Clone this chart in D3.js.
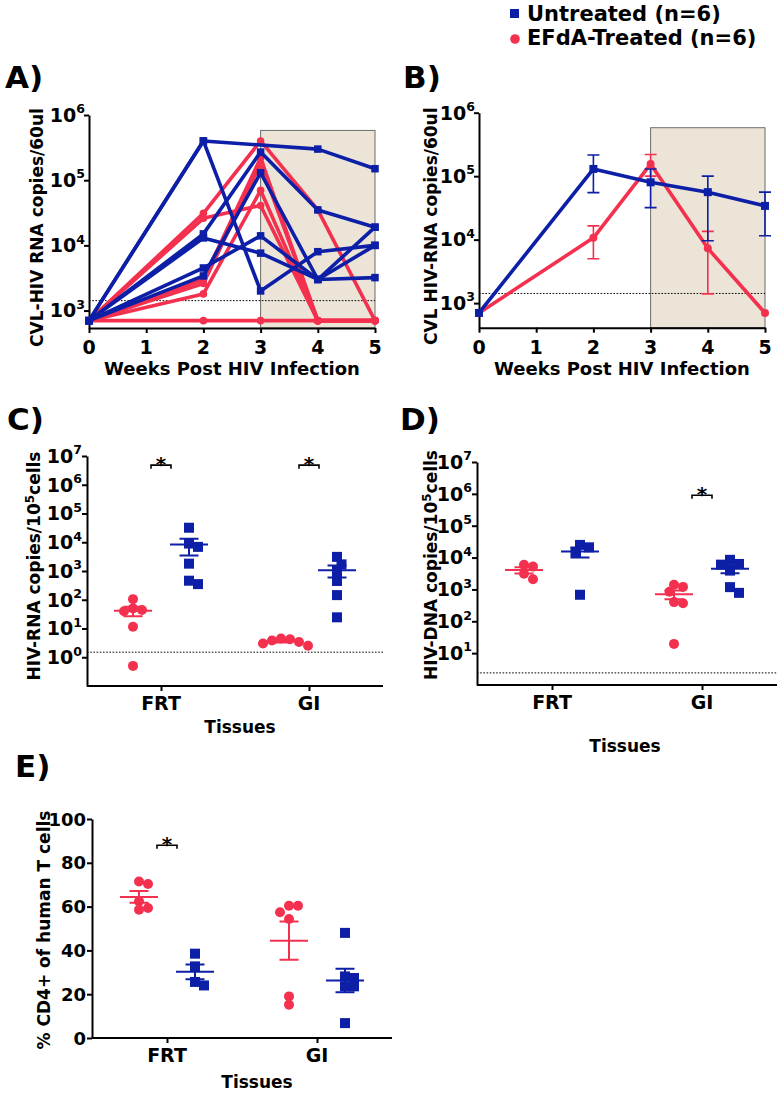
<!DOCTYPE html>
<html>
<head>
<meta charset="utf-8">
<script src="https://cdn.jsdelivr.net/npm/d3@7/dist/d3.min.js"></script>
<style>
  body { margin: 0; background: #fff; }
  svg { font-family: "DejaVu Sans", "Liberation Sans", Arial, sans-serif; font-weight: bold; }
</style>
</head>
<body>
<svg id="fig" width="782" height="1094"></svg>
<script>
// values

var weekTicks = [0, 1, 2, 3, 4, 5];
var weeks = [0, 2, 3, 4, 5];

// A) each animal, CVL copies/60ul (null = no sample that week)
var untreatedRuns = [
  [700, 4.0e5, null, 3.0e5, 1.5e5],
  [700, 4.0e5, 2000, 8000, 1.0e4],
  [700, 1.5e4, 2.7e5, 3.5e4, 1.9e4],
  [700, 1.3e4, 7600, 3000, 1.9e4],
  [700, 4500, 1.4e4, 3000, 1.0e4],
  [700, 3400, 1.3e5, 3000, 3200]
];
var treatedRuns = [
  [700, 3.1e4, 4.0e5, 3.5e4, 700],
  [700, 2.6e4, 4.1e4, 700, 700],
  [700, 3000, 2.2e5, 700, 700],
  [700, 2600, 1.8e5, 700, 700],
  [700, 1800, 7.0e4, 700, 700],
  [700, 700, 700, 700, 700]
];

// B) mean with SEM ends
var untreatedMean = [700, 1.3e5, 8.0e4, 5.6e4, 3.4e4];
var untreatedHigh = [null, 2.15e5, 1.3e5, 1.0e5, 5.6e4];
var untreatedLow = [null, 5.5e4, 3.2e4, 9600, 1.15e4];
var treatedMean = [700, 1.07e4, 1.55e5, 7300, 700];
var treatedHigh = [null, 1.65e4, 2.2e5, 1.35e4, null];
var treatedLow = [null, 5000, 1.0e5, 1400, null];

var detectionCVL = 1420;
var treatmentWeeks = [3, 5];
var shadeTop = 5.8e5;

var tissues = ["FRT", "GI"];
var groups = ["EFdA-Treated", "Untreated"];

// C) HIV-RNA copies / 10^5 cells
var rnaTreatedFRT = [105, 50, 44, 40, 11.5, 0.5];
var rnaUntreatedFRT = [3.2e4, 9000, 6900, 1800, 460, 350];
var rnaTreatedGI = [4.5, 4.2, 3.8, 3.4, 3.0, 2.5];
var rnaUntreatedGI = [3100, 1700, 1000, 450, 145, 24.5];
var detectionRNA = 1.5;
var starsC = ["FRT", "GI"];
var starLevelC = 4.8e6;

// D) HIV-DNA copies / 10^5 cells
var dnaTreatedFRT = [5900, 5200, 3100, 2100];
var dnaUntreatedFRT = [2.5e4, 2.1e4, 1.5e4, 680];
var dnaTreatedGI = [1400, 1200, 850, 400, 370, 19.5];
var dnaUntreatedGI = [8500, 6300, 6000, 3900, 1180, 780];
var detectionDNA = 2.4;
var starsD = ["GI"];
var starLevelD = 9e5;

// E) % CD4+ of human T cells
var cd4TreatedFRT = [71.5, 70.3, 62.4, 59.4, 58.6];
var cd4UntreatedFRT = [38.5, 32.7, 25.6, 24];
var cd4TreatedGI = [60.4, 60.4, 57.4, 54.3, 19, 15.2];
var cd4UntreatedGI = [48, 28.1, 27.4, 23.6, 23.6, 6.8];
var cd4Ticks = [0, 20, 40, 60, 80, 100];
var starsE = ["FRT"];
var starLevelE = 88;

var BLUE = "#0c1fa6", RED = "#f4304f", SHADE = "#ece4d7";
var svg = d3.select("#fig");

var say = function (parent, x, y, str, size, anchor, rot) {
  var tf = "translate(" + x + "," + y + ")" + (rot ? " rotate(" + rot + ")" : "");
  return parent.append("text")
    .attr("transform", tf)
    .attr("text-anchor", anchor || "middle")
    .attr("font-size", size)
    .text(str);
};

// "10" with a raised exponent, right aligned on x
var power = function (parent, x, y, exp, size) {
  var t = parent.append("text")
    .attr("x", x).attr("y", y + size * 0.36)
    .attr("text-anchor", "end")
    .attr("font-size", size);
  t.append("tspan").text("10");
  t.append("tspan").attr("dy", -size * 0.45).attr("font-size", size * 0.66).text(exp);
  return t;
};

var styleAxis = function (g) {
  g.select(".domain").attr("stroke", "#000").attr("stroke-width", 2);
  g.selectAll(".tick line").attr("stroke", "#000").attr("stroke-width", 2);
  g.selectAll(".tick text").remove();
};

var square = function (g, cx, cy, s, color) {
  g.append("rect")
    .attr("x", cx - s / 2).attr("y", cy - s / 2)
    .attr("width", s).attr("height", s)
    .attr("fill", color);
};

var dot = function (g, cx, cy, r, color) {
  g.append("circle").attr("cx", cx).attr("cy", cy).attr("r", r).attr("fill", color);
};

var dotted = function (g, x1, x2, y) {
  g.append("line")
    .attr("x1", x1).attr("x2", x2).attr("y1", y).attr("y2", y)
    .attr("stroke", "#000").attr("stroke-width", 1)
    .attr("stroke-dasharray", "1.6,1.6");
};

// legend
var legend = svg.append("g");
square(legend, 514.5, 13.5, 9, BLUE);
say(legend, 527, 21, "Untreated (n=6)", 21, "start");
dot(legend, 515, 39, 4.8, RED);
say(legend, 527, 45, "EFdA-Treated (n=6)", 21, "start");

// ---------- A and B: viral load over time ----------
var courseFrame = function (opt) {
  var g = svg.append("g");
  var x = d3.scaleLinear().domain([0, 5]).range([opt.left, opt.right]);
  var y = d3.scaleLog().domain([opt.yMin, 1e6]).range([opt.bottom, opt.top]);

  say(g, opt.letterX, 88, opt.letter, 31, "start");

  g.append("rect")
    .attr("x", x(treatmentWeeks[0]))
    .attr("y", y(shadeTop))
    .attr("width", x(treatmentWeeks[1]) - x(treatmentWeeks[0]))
    .attr("height", y(opt.yMin) - y(shadeTop))
    .attr("fill", SHADE).attr("stroke", "#6b6b6b").attr("stroke-width", 1);

  dotted(g, x(0), x(5), y(detectionCVL));

  g.append("g").attr("transform", "translate(0," + opt.bottom + ")")
    .call(d3.axisBottom(x).tickValues(weekTicks).tickSize(5).tickSizeOuter(0))
    .call(styleAxis);
  g.append("g").attr("transform", "translate(" + opt.left + ",0)")
    .call(d3.axisLeft(y).tickValues([1e3, 1e4, 1e5, 1e6]).tickSize(5).tickSizeOuter(0))
    .call(styleAxis);

  weekTicks.forEach(function (w) {
    say(g, x(w), opt.bottom + 26, String(w), 19);
  });
  [3, 4, 5, 6].forEach(function (e) {
    power(g, opt.left - 4, y(Math.pow(10, e)), e, 19);
  });

  say(g, opt.titleX, (opt.top + opt.bottom) / 2 + 6, opt.title, 17, "middle", -90);
  say(g, (opt.left + opt.right) / 2, opt.bottom + 47, "Weeks Post HIV Infection", 18);

  return { g: g, x: x, y: y };
};

var A = courseFrame({ left: 89, right: 375, top: 115, bottom: 328, yMin: 540,
  letter: "A)", letterX: 5, title: "CVL-HIV RNA copies/60ul", titleX: 43 });

var runLine = function (frame, run) {
  var pts = weeks.map(function (w, i) { return [w, run[i]]; })
    .filter(function (p) { return p[1] != null; });
  var line = d3.line()
    .x(function (p) { return frame.x(p[0]); })
    .y(function (p) { return frame.y(p[1]); });
  return { pts: pts, path: line(pts) };
};

treatedRuns.forEach(function (run) {
  var r = runLine(A, run);
  A.g.append("path").attr("d", r.path).attr("fill", "none")
    .attr("stroke", RED).attr("stroke-width", 3.6).attr("stroke-linejoin", "round");
  r.pts.forEach(function (p) { dot(A.g, A.x(p[0]), A.y(p[1]), 3.8, RED); });
});
untreatedRuns.forEach(function (run) {
  var r = runLine(A, run);
  A.g.append("path").attr("d", r.path).attr("fill", "none")
    .attr("stroke", BLUE).attr("stroke-width", 3.6).attr("stroke-linejoin", "round");
  r.pts.forEach(function (p) { square(A.g, A.x(p[0]), A.y(p[1]), 7.5, BLUE); });
});

var B = courseFrame({ left: 479, right: 765, top: 112.7, bottom: 327.7, yMin: 410,
  letter: "B)", letterX: 403, title: "CVL HIV-RNA copies/60ul", titleX: 437 });

var meanSeries = function (frame, mean, hi, lo, color, marker) {
  var pts = weeks.map(function (w, i) { return [w, mean[i]]; });
  var line = d3.line()
    .x(function (p) { return frame.x(p[0]); })
    .y(function (p) { return frame.y(p[1]); });
  frame.g.append("path").attr("d", line(pts)).attr("fill", "none")
    .attr("stroke", color).attr("stroke-width", 3.6).attr("stroke-linejoin", "round");
  weeks.forEach(function (w, i) {
    if (hi[i] == null) return;
    var cx = frame.x(w), y1 = frame.y(hi[i]), y2 = frame.y(lo[i]);
    frame.g.append("path")
      .attr("d", "M" + (cx - 6) + "," + y1 + "H" + (cx + 6) + "M" + cx + "," + y1 + "V" + y2 + "M" + (cx - 6) + "," + y2 + "H" + (cx + 6))
      .attr("fill", "none").attr("stroke", color).attr("stroke-width", 1.6);
  });
  pts.forEach(function (p) { marker(frame.g, frame.x(p[0]), frame.y(p[1]), color); });
};

meanSeries(B, treatedMean, treatedHigh, treatedLow, RED, function (g, x, y, c) { dot(g, x, y, 4, c); });
meanSeries(B, untreatedMean, untreatedHigh, untreatedLow, BLUE, function (g, x, y, c) { square(g, x, y, 8, c); });

// ---------- C, D, E: tissue scatter plots ----------
// spread points sideways only where they would sit on top of each other
var swarm = function (vals, y, cx, r) {
  var placed = [];
  return vals.slice().sort(function (a, b) { return b - a; }).map(function (v) {
    var py = y(v), k = 0, px;
    while (true) {
      px = cx + (k % 2 ? 1 : -1) * Math.ceil(k / 2) * r * 0.9;
      var clash = placed.some(function (p) {
        return Math.hypot(p[0] - px, p[1] - py) < r * 1.6;
      });
      if (!clash) break;
      k++;
    }
    placed.push([px, py]);
    return [px, py];
  });
};

var scatterFrame = function (opt) {
  var g = svg.append("g");
  var x = d3.scalePoint().domain(tissues).range([opt.left, opt.right]).padding(0.5);
  var sub = d3.scalePoint().domain(groups).range([-28, 28]);
  var y = opt.y;
  var bottom = y.range()[0], top = y.range()[1];

  say(g, opt.letterX, opt.letterY, opt.letter, 31, "start");

  if (opt.detection) dotted(g, opt.left, opt.right, y(opt.detection));

  g.append("g").attr("transform", "translate(0," + bottom + ")")
    .call(d3.axisBottom(x).tickSize(5).tickSizeOuter(0))
    .call(styleAxis);
  g.select("g .domain").attr("d", "M" + opt.left + ",0H" + opt.right);
  g.append("g").attr("transform", "translate(" + opt.left + ",0)")
    .call(d3.axisLeft(y).tickValues(opt.ticks).tickSize(5).tickSizeOuter(0))
    .call(styleAxis);

  opt.ticks.forEach(function (t) {
    if (opt.log) power(g, opt.left - 5, y(t), Math.round(Math.log10(t)), 19);
    else say(g, opt.left - 6, y(t) + 6.5, String(t), 18, "end");
  });
  tissues.forEach(function (t) { say(g, x(t), bottom + 24, t, 19); });

  var title = g.append("text")
    .attr("transform", "translate(" + opt.titleX + "," + opt.titleY + ") rotate(-90)")
    .attr("text-anchor", "middle").attr("font-size", 17);
  title.append("tspan").text(opt.title[0]);
  if (opt.title.length > 1) {
    title.append("tspan").attr("dy", -6).attr("font-size", 12).text(opt.title[1]);
    title.append("tspan").attr("dy", 6).text(opt.title[2]);
  }
  say(g, opt.xTitleX, opt.xTitleY, "Tissues", 17);

  opt.series.forEach(function (s) {
    var cx = x(s.tissue) + sub(s.group);
    var color = s.group == "Untreated" ? BLUE : RED;
    swarm(s.values, y, cx, 5).forEach(function (p) {
      if (s.group == "Untreated") square(g, p[0], p[1], 10, color);
      else dot(g, p[0], p[1], 5, color);
    });
    var m = d3.mean(s.values);
    var sem = d3.deviation(s.values) / Math.sqrt(s.values.length);
    var yh = y(m + sem), yl = y(m - sem), ym = y(m);
    g.append("path")
      .attr("d", "M" + (cx - 19) + "," + ym + "H" + (cx + 19) +
        "M" + (cx - 9.5) + "," + yh + "H" + (cx + 9.5) +
        "M" + cx + "," + yh + "V" + yl +
        "M" + (cx - 9.5) + "," + yl + "H" + (cx + 9.5))
      .attr("fill", "none").attr("stroke", color).attr("stroke-width", 2);
  });

  opt.stars.forEach(function (t) {
    var cx = x(t), yb = y(opt.starLevel);
    g.append("path")
      .attr("d", "M" + (cx - 10) + "," + (yb + 3.5) + "V" + yb + "H" + (cx + 10) + "V" + (yb + 3.5))
      .attr("fill", "none").attr("stroke", "#000").attr("stroke-width", 1.6);
    say(g, cx, yb + 6, "*", 20);
  });
  return g;
};

scatterFrame({
  left: 87, right: 383,
  y: d3.scaleLog().domain([0.1, 1e7]).range([686, 456]),
  log: true, ticks: [1, 10, 100, 1e3, 1e4, 1e5, 1e6, 1e7],
  letter: "C)", letterX: 7, letterY: 430,
  title: ["HIV-RNA copies/10", "5", "cells"], titleX: 40, titleY: 566,
  xTitleX: 240, xTitleY: 733,
  detection: detectionRNA,
  series: [
    { tissue: "FRT", group: "EFdA-Treated", values: rnaTreatedFRT },
    { tissue: "FRT", group: "Untreated", values: rnaUntreatedFRT },
    { tissue: "GI", group: "EFdA-Treated", values: rnaTreatedGI },
    { tissue: "GI", group: "Untreated", values: rnaUntreatedGI }
  ],
  stars: starsC, starLevel: starLevelC
});

scatterFrame({
  left: 477, right: 777,
  y: d3.scaleLog().domain([1, 1e7]).range([685, 462]),
  log: true, ticks: [10, 100, 1e3, 1e4, 1e5, 1e6, 1e7],
  letter: "D)", letterX: 400, letterY: 430,
  title: ["HIV-DNA copies/10", "5", "cells"], titleX: 437, titleY: 565,
  xTitleX: 625, xTitleY: 752,
  detection: detectionDNA,
  series: [
    { tissue: "FRT", group: "EFdA-Treated", values: dnaTreatedFRT },
    { tissue: "FRT", group: "Untreated", values: dnaUntreatedFRT },
    { tissue: "GI", group: "EFdA-Treated", values: dnaTreatedGI },
    { tissue: "GI", group: "Untreated", values: dnaUntreatedGI }
  ],
  stars: starsD, starLevel: starLevelD
});

scatterFrame({
  left: 92, right: 392,
  y: d3.scaleLinear().domain([0, 100]).range([1038, 819]),
  log: false, ticks: cd4Ticks,
  letter: "E)", letterX: 15, letterY: 777,
  title: ["% CD4+ of human T cells"], titleX: 50, titleY: 930,
  xTitleX: 257, xTitleY: 1088,
  detection: null,
  series: [
    { tissue: "FRT", group: "EFdA-Treated", values: cd4TreatedFRT },
    { tissue: "FRT", group: "Untreated", values: cd4UntreatedFRT },
    { tissue: "GI", group: "EFdA-Treated", values: cd4TreatedGI },
    { tissue: "GI", group: "Untreated", values: cd4UntreatedGI }
  ],
  stars: starsE, starLevel: starLevelE
});
</script>
</body>
</html>
